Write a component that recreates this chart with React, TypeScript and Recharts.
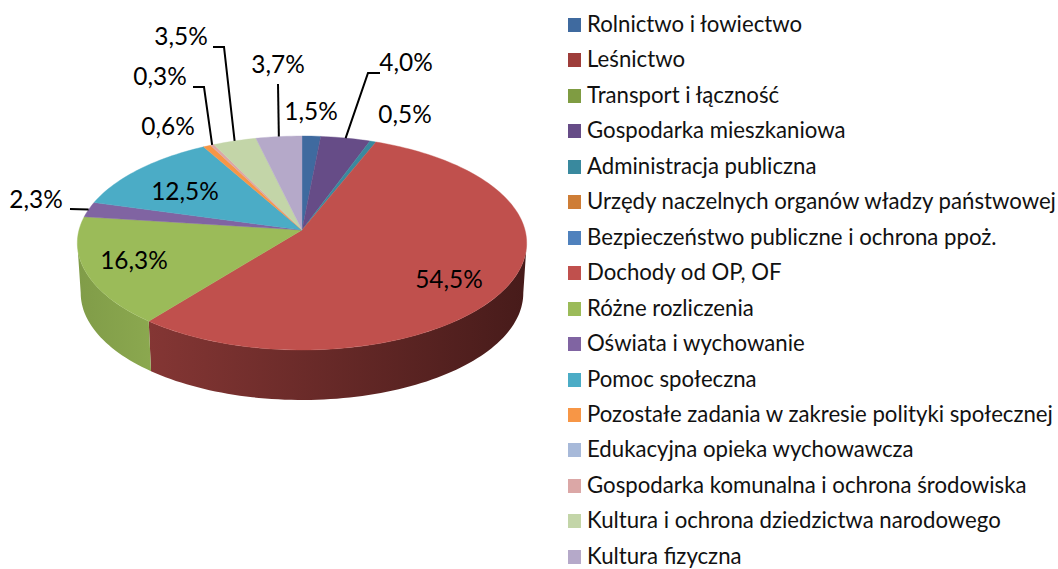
import React from 'react';
import { PieChart, Pie, Legend } from 'recharts';

const categories = [
    'Rolnictwo i łowiectwo',
    'Leśnictwo',
    'Transport i łączność',
    'Gospodarka mieszkaniowa',
    'Administracja publiczna',
    'Urzędy naczelnych organów władzy państwowej',
    'Bezpieczeństwo publiczne i ochrona ppoż.',
    'Dochody od OP, OF',
    'Różne rozliczenia',
    'Oświata i wychowanie',
    'Pomoc społeczna',
    'Pozostałe zadania w zakresie polityki społecznej',
    'Edukacyjna opieka wychowawcza',
    'Gospodarka komunalna i ochrona środowiska',
    'Kultura i ochrona dziedzictwa narodowego',
    'Kultura fizyczna',
];
const values = [1.5, 0, 0, 4.0, 0.5, 0, 0, 54.5, 16.3, 2.3, 12.5, 0.6, 0, 0.3, 3.5, 3.7];
const colors = [
    '#3F6A9F', '#9E3D3A', '#7F9C42', '#664C87', '#39899E', '#CE7D36', '#4F81BD', '#C0504D',
    '#9BBB59', '#8064A2', '#4BACC6', '#F79646', '#A7B9D9', '#DBA7A6', '#C3D5A8', '#B5A9C9',
];
// left and right colour of the visible side wall
const wallColors: Record<string, [string, string]> = {
    'Dochody od OP, OF': ['#843634', '#471B1A'],
    'Różne rozliczenia': ['#809C48', '#8BA84F'],
};

// where each percentage sits, and the elbow of its leader line if it has one
const labelSpots: Record<string, { x: number; y: number; elbow?: number[][] }> = {
    'Rolnictwo i łowiectwo': { x: 311, y: 110 },
    'Gospodarka mieszkaniowa': { x: 406, y: 61, elbow: [[368, 73], [380, 73]] },
    'Administracja publiczna': { x: 405, y: 113 },
    'Dochody od OP, OF': { x: 449, y: 278 },
    'Różne rozliczenia': { x: 134, y: 259 },
    'Oświata i wychowanie': { x: 36, y: 198, elbow: [[70, 209]] },
    'Pomoc społeczna': { x: 185, y: 190 },
    'Pozostałe zadania w zakresie polityki społecznej': { x: 168, y: 125 },
    'Gospodarka komunalna i ochrona środowiska': { x: 160, y: 75, elbow: [[204, 87], [193, 87]] },
    'Kultura i ochrona dziedzictwa narodowego': { x: 181, y: 35, elbow: [[224, 47], [213, 47]] },
    'Kultura fizyczna': { x: 278, y: 63, elbow: [[278, 84]] },
};

const tableData = categories.map((name, i) => ({ name, value: values[i], fill: colors[i] }));

const FONT = 'Lato, sans-serif';
const SQUASH = 0.4726; // vertical scale of the tilted disc
const TILT = 0.1215; // perspective strength
const DEPTH = 50;
const BOTTOM_SCALE = 0.985;

// clockwise degrees from the top -> point on the tilted disc rim
const rimPoint = (cx: number, cy: number, r: number, deg: number) => {
    const a = (deg * Math.PI) / 180;
    const w = 1 + TILT * Math.cos(a);
    return { x: cx + (r * Math.sin(a)) / w, y: cy - (r * SQUASH * Math.cos(a)) / w };
};

const sampleRim = (cx: number, cy: number, r: number, from: number, to: number) => {
    const steps = Math.max(2, Math.ceil((to - from) / 1.5));
    const pts = [];
    for (let i = 0; i <= steps; i++) pts.push(rimPoint(cx, cy, r, from + ((to - from) * i) / steps));
    return pts;
};

const toPath = (pts: { x: number; y: number }[]) =>
    pts.map((p, i) => `${i ? 'L' : 'M'}${p.x.toFixed(2)},${p.y.toFixed(2)}`).join('') + 'Z';

const DiscSlice = (props: any) => {
    const { cx, cy, outerRadius, startAngle, endAngle, fill, name } = props;
    const from = 90 - startAngle;
    const to = 90 - endAngle;
    if (to - from <= 0) return null;

    const top = [{ x: cx, y: cy }, ...sampleRim(cx, cy, outerRadius, from, to)];
    const wallFrom = Math.max(from, 97);
    const wallTo = Math.min(to, 263);
    const wall = wallColors[name];
    let wallPath = '';
    if (wall && wallTo > wallFrom) {
        const rim = sampleRim(cx, cy, outerRadius, wallFrom, wallTo);
        const lower = rim.map((p) => ({ x: cx + (p.x - cx) * BOTTOM_SCALE, y: p.y + DEPTH })).reverse();
        wallPath = toPath([...rim, ...lower]);
    }
    const gradId = `wall-${categories.indexOf(name)}`;
    return (
        <g>
            {wallPath && (
                <>
                    <defs>
                        <linearGradient id={gradId} x1="0" y1="0" x2="1" y2="0">
                            <stop offset="0%" stopColor={wall[0]} />
                            <stop offset="100%" stopColor={wall[1]} />
                        </linearGradient>
                    </defs>
                    <path d={wallPath} fill={`url(#${gradId})`} />
                </>
            )}
            <path d={toPath(top)} fill={fill} stroke={fill} strokeWidth={0.4} />
        </g>
    );
};

const PercentLabel = (props: any) => {
    const { cx, cy, outerRadius, midAngle, name, value } = props;
    const spot = labelSpots[name];
    if (!spot || !value) return null;
    const start = rimPoint(cx, cy, outerRadius, 90 - midAngle);
    const leader = spot.elbow ? [[start.x, start.y], ...spot.elbow].map((p) => p.join(',')).join(' ') : null;
    return (
        <g>
            {leader && <polyline points={leader} fill="none" stroke="#000" strokeWidth={2} />}
            <text x={spot.x} y={spot.y} textAnchor="middle" dominantBaseline="central" fontFamily={FONT} fontSize={24.4} fill="#000">
                {value.toFixed(1).replace('.', ',')}%
            </text>
        </g>
    );
};

const ROW_START = 24;
const ROW_STEP = 35.45;

const LegendRows = ({ payload }: any) => (
    <div>
        {(payload || []).map((item: any, i: number) => (
            <div key={item.value} style={{ position: 'absolute', left: 0, top: ROW_START + i * ROW_STEP - 13, height: 26, lineHeight: '26px', whiteSpace: 'nowrap', fontFamily: FONT, fontSize: 22.2, color: '#111' }}>
                <span style={{ position: 'absolute', left: 8, top: 7, width: 13, height: 14, background: item.color }} />
                <span style={{ position: 'absolute', left: 27, top: 0 }}>{item.value}</span>
            </div>
        ))}
    </div>
);

export default function App() {
    return (
        <div style={{ position: 'absolute', left: 0, top: 0, width: 1058, height: 569, overflow: 'hidden', background: '#fff' }}>
            <PieChart width={1058} height={569} margin={{ top: 0, right: 0, bottom: 0, left: 0 }}>
                <Pie
                    data={tableData}
                    dataKey="value"
                    nameKey="name"
                    cx={302}
                    cy={230}
                    outerRadius={223}
                    startAngle={90}
                    endAngle={-270}
                    stroke="none"
                    shape={DiscSlice}
                    label={PercentLabel}
                    labelLine={false}
                    isAnimationActive={false}
                />
                <Legend
                    layout="vertical"
                    align="right"
                    verticalAlign="top"
                    itemSorter={null}
                    content={LegendRows}
                    wrapperStyle={{ position: 'absolute', left: 560, top: 0, width: 498, height: 569 }}
                />
            </PieChart>
        </div>
    );
}
